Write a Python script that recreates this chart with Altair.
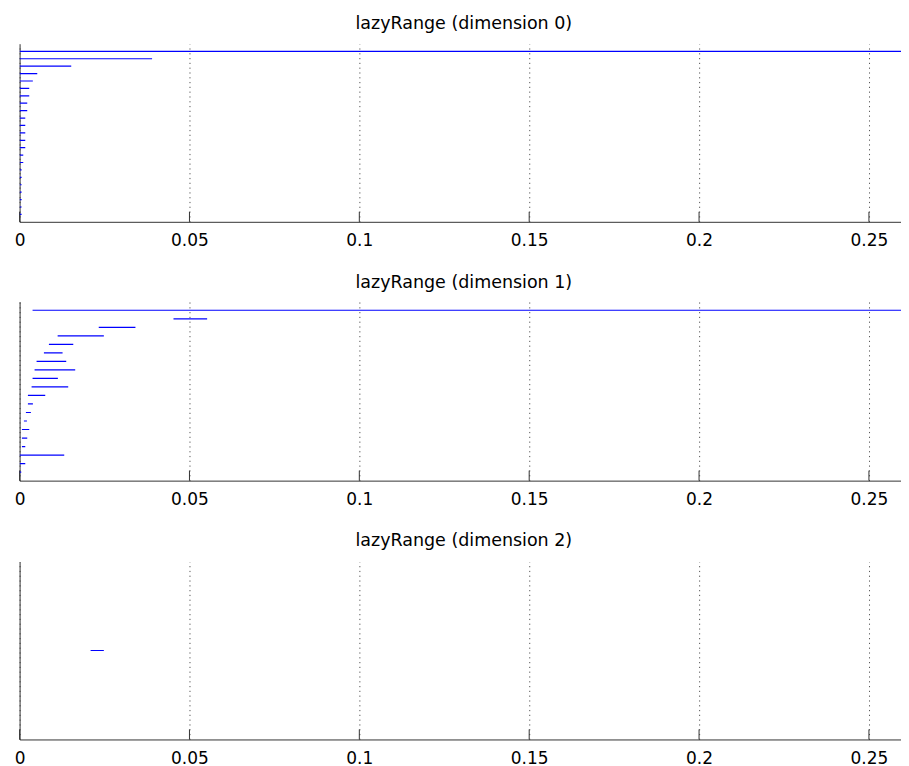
import altair as alt
import pandas as pd

# ---- data ----
XMAX = 0.2615
TICKS = [0, 0.05, 0.1, 0.15, 0.2, 0.25]

titles = ["lazyRange (dimension 0)", "lazyRange (dimension 1)", "lazyRange (dimension 2)"]
slots = [24, 21, 2]

dim0_start = [0.0] * 23
dim0_end = [0.2615, 0.0390, 0.0152, 0.0052, 0.0039, 0.00284, 0.00284, 0.00225,
             0.00225, 0.00167, 0.00167, 0.00167, 0.00167, 0.00167, 0.00108, 0.00108,
             0.00059, 0.00059, 0.00059, 0.00059, 0.00059, 0.00059, 0.00059]

dim1_start = [0.00382, 0.0453, 0.0233, 0.0112, 0.00863, 0.00716, 0.0050, 0.00441,
              0.00382, 0.00353, 0.00245, 0.00245, 0.00186, 0.00127, 0.00069, 0.00069,
              0.00069, 0.0, 0.0, 0.0]
dim1_end = [0.2615, 0.0552, 0.0341, 0.0248, 0.0158, 0.01265, 0.01373, 0.01637,
            0.01127, 0.01431, 0.00755, 0.00392, 0.00333, 0.00216, 0.00284, 0.00225,
            0.00167, 0.01314, 0.00167, 0.00049]

dim2_start = [0.0209]
dim2_end = [0.0248]

FONT = "DejaVu Sans"
W = 889


def panel(title, starts, ends, nslots, h, offset):
    df = pd.DataFrame({"row": list(range(1, len(starts) + 1)), "start": starts, "end": ends})
    caps = df[df["end"] >= XMAX]
    tdf = pd.DataFrame({"t": TICKS})
    xs = alt.Scale(domain=[0, XMAX], nice=False, zero=False)
    ys = alt.Scale(domain=[0, nslots], reverse=True, nice=False, zero=False)
    xaxis = alt.Axis(values=TICKS, grid=True, gridDash=[1.2, 3.6], gridColor="#555",
                     gridWidth=1, ticks=False, tickSize=0, domain=True, domainColor="#333",
                     labelFont=FONT, labelFontSize=17, labelPadding=11, labelFlush=False,
                     labelColor="#000", labelOverlap=False, format="~g")
    yaxis = alt.Axis(labels=False, ticks=False, grid=False, domain=True, domainColor="#333")

    bars = alt.Chart(df).mark_rule(color="#0000ff", strokeWidth=1.2, clip=True).encode(
        x=alt.X("start:Q", scale=xs, axis=xaxis, title=None),
        x2="end:Q",
        y=alt.Y("row:Q", scale=ys, axis=yaxis, title=None),
    )
    ticks = alt.Chart(tdf).mark_rule(color="#333", strokeWidth=1).encode(
        x=alt.X("t:Q", scale=xs, axis=xaxis, title=None),
        y=alt.value(h - 10),
        y2=alt.value(h),
    )
    layers = [ticks, bars]
    if len(caps):
        cap = alt.Chart(caps).mark_tick(color="#0000ff", orient="vertical", size=14,
                                         thickness=1.3).encode(
            x=alt.X("end:Q", scale=xs, axis=xaxis, title=None),
            y=alt.Y("row:Q", scale=ys, axis=yaxis, title=None),
        )
        layers.append(cap)
    return alt.layer(*layers).properties(
        width=W, height=h,
        title=alt.TitleParams(title, font=FONT, fontSize=17.5, fontWeight="normal",
                              color="#000", baseline="alphabetic", offset=offset,
                              anchor="middle"),
    )


p1 = panel(titles[0], dim0_start, dim0_end, slots[0], 178, -2.4)
p2 = panel(titles[1], dim1_start, dim1_end, slots[1], 179, -3.4)
p3 = panel(titles[2], dim2_start, dim2_end, slots[2], 178, -2.4)

chart = alt.vconcat(p1, p2, p3, spacing=24).configure(
    padding={"left": 5.6, "top": 5.7, "right": -8, "bottom": 0},
    background="white",
).configure_view(stroke=None)

chart.save("out.html", embed_options={"renderer": "svg", "actions": False})
